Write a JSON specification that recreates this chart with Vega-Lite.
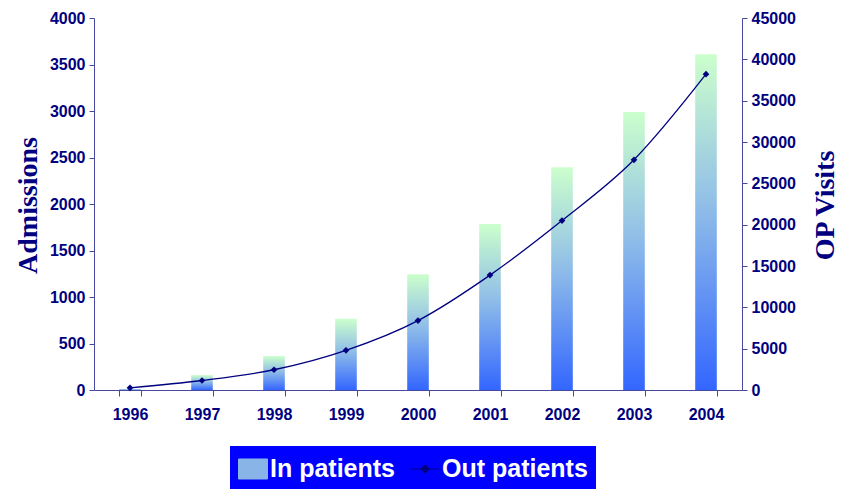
{
  "$schema": "https://vega.github.io/schema/vega-lite/v6.json",
  "autosize": "none",
  "width": 648,
  "height": 372,
  "padding": {"left": 94, "top": 18, "right": 99, "bottom": 99},
  "background": "white",
  "config": {
    "view": {"stroke": null},
    "axis": {
      "labelFont": "Liberation Sans",
      "labelFontSize": 16,
      "labelFontWeight": "bold",
      "labelColor": "#000080",
      "domainColor": "#4848A0",
      "tickColor": "#4848A0",
      "tickSize": 5,
      "grid": false,
      "titleFont": "Liberation Serif",
      "titleFontWeight": "bold",
      "titleFontSize": 28,
      "titleColor": "#000080"
    }
  },
  "data": {
    "values": [
      {"year": "1996", "admissions": 10, "op": 260},
      {"year": "1997", "admissions": 160, "op": 1150},
      {"year": "1998", "admissions": 365, "op": 2450},
      {"year": "1999", "admissions": 765, "op": 4800},
      {"year": "2000", "admissions": 1245, "op": 8400},
      {"year": "2001", "admissions": 1785, "op": 13900},
      {"year": "2002", "admissions": 2395, "op": 20500},
      {"year": "2003", "admissions": 2990, "op": 27850},
      {"year": "2004", "admissions": 3610, "op": 38200}
    ]
  },
  "encoding": {
    "x": {
      "field": "year",
      "type": "ordinal",
      "scale": {"paddingInner": 0.7, "paddingOuter": 0.35},
      "axis": {"title": null, "labelAngle": 0, "tickBand": "extent", "labelPadding": 10, "tickSize": 6}
    }
  },
  "layer": [
    {
      "mark": {
        "type": "bar",
        "color": {
          "gradient": "linear",
          "x1": 0, "y1": 1, "x2": 0, "y2": 0,
          "stops": [
            {"offset": 0, "color": "#3366FF"},
            {"offset": 0.55, "color": "#90BEE8"},
            {"offset": 1, "color": "#CCFFCC"}
          ]
        }
      },
      "encoding": {
        "y": {
          "field": "admissions",
          "type": "quantitative",
          "scale": {"domain": [0, 4000], "nice": false},
          "axis": {"title": "Admissions", "format": "d", "values": [0, 500, 1000, 1500, 2000, 2500, 3000, 3500, 4000], "labelPadding": 4, "titleX": -66, "titleY": 187, "titleAngle": 270, "titleAlign": "center", "titleBaseline": "middle"}
        }
      }
    },
    {
      "mark": {
        "type": "line",
        "interpolate": "monotone",
        "strokeWidth": 1.3,
        "point": {"filled": true, "shape": "diamond", "size": 45}
      },
      "encoding": {
        "y": {
          "field": "op",
          "type": "quantitative",
          "scale": {"domain": [0, 45000], "nice": false},
          "axis": {"title": "OP Visits", "orient": "right", "format": "d", "values": [0, 5000, 10000, 15000, 20000, 25000, 30000, 35000, 40000, 45000], "labelPadding": 4, "titleX": 83, "titleY": 187, "titleAngle": 270, "titleAlign": "center", "titleBaseline": "middle"}
        },
        "color": {
          "datum": "Out patients",
          "type": "nominal",
          "scale": {"domain": ["In patients", "Out patients"], "range": ["#88B4E8", "#000080"]},
          "legend": {
            "title": null,
            "orient": "none",
            "legendX": 136,
            "legendY": 428,
            "direction": "horizontal",
            "fillColor": "#0000FF",
            "padding": 8,
            "labelColor": "white",
            "labelFont": "Liberation Sans",
            "labelFontSize": 25,
            "labelFontWeight": "bold",
            "symbolSize": 841,
            "labelOffset": 2,
            "columnPadding": 12,
            "encode": {
              "symbols": {
                "update": {
                  "shape": [
                    {"test": "datum.value === 'In patients'", "value": "M-1,-0.69H1V0.69H-1Z"},
                    {"value": "M-1,0H1M0,-0.3L0.3,0L0,0.3L-0.3,0Z"}
                  ],
                  "stroke": [
                    {"test": "datum.value === 'In patients'", "value": "#E8E8E8"},
                    {"value": "#000080"}
                  ],
                  "strokeWidth": {"value": 1},
                  "opacity": {"value": 1}
                }
              }
            }
          }
        }
      }
    }
  ],
  "resolve": {"scale": {"y": "independent"}}
}
